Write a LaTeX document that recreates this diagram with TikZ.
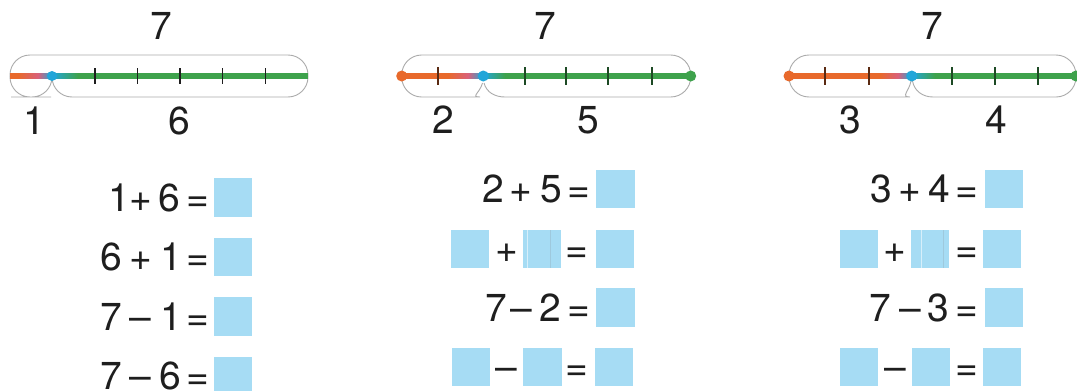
\documentclass[tikz,border=0pt]{standalone}
\usepackage{fontspec}
\setmainfont{TeX Gyre Heros}
\definecolor{lorange}{HTML}{E8692B}
\definecolor{lpink}{HTML}{D9617A}
\definecolor{lblue}{HTML}{22A6D9}
\definecolor{lgreen}{HTML}{3EA24C}
\definecolor{boxblue}{HTML}{A6DCF4}
\definecolor{bracegray}{HTML}{ABABAB}
\definecolor{ink}{HTML}{1E1E1E}
\definecolor{tickgreen}{HTML}{1D4A24}
\definecolor{tickbrown}{HTML}{5A2A12}
\tikzset{
  brace/.style={draw=bracegray, line width=0.9pt},
  tickmark/.style={line width=1.7pt},
  ch/.style={inner sep=0pt, text height=27.3pt, text depth=0pt, font=\fontsize{39}{42}\selectfont, text=ink},
  ansbox/.style={fill=boxblue, minimum width=38.5pt, minimum height=38.5pt, inner sep=0pt, draw=none},
  dot/.style={circle, minimum size=11pt, inner sep=0pt, draw=none},
}
\begin{document}
\begin{tikzpicture}[x=1pt,y=-1pt]
\clip (0,0) rectangle (1077,391);
\fill[white] (0,0) rectangle (1077,391);

% ================= Panel 1 =================
\coordinate (a1) at (10,76);
\coordinate (m1) at (52,76);
\coordinate (e1) at (308,76);
\draw[brace, rounded corners=20pt] (a1) |- (160,55) -| (e1);
\draw[brace, rounded corners=20pt] (a1) |- (31,97) -| (m1);
\draw[brace, rounded corners=20pt] (m1) |- (180,97) -| (e1);
\fill[lorange] (10,73.2) rectangle (18,78.8);
\shade[left color=lorange, right color=lpink] (18,73.2) rectangle (38,78.8);
\shade[left color=lpink, right color=lblue] (38,73.2) rectangle (52,78.8);
\shade[left color=lblue, right color=lgreen] (52,73.2) rectangle (78,78.8);
\fill[lgreen] (78,73.2) rectangle (308,78.8);
\foreach \x in {95,137.3,180,222.7,265.3}
  \draw[tickmark, line width=1.3pt, ink] (\x,68) -- (\x,84);
\node[dot, fill=lblue, minimum size=10pt] (b1) at (m1) {};
\node[ch] (t1) at (161,25.5) {7};
\node[ch] (p1) at (34,121) {1};
\node[ch] (q1) at (179,121) {6};

% ================= Panel 2 =================
\coordinate (a2) at (401.7,76);
\coordinate (m2) at (483.3,76);
\coordinate (e2) at (690.7,76);
\draw[brace, rounded corners=20pt] (a2) |- (545,55) -| (e2);
\draw[brace] (a2) [rounded corners=20pt] |- (460,97) [sharp corners] to[out=0,in=-105] (482.5,83);
\draw[brace] (484,83) to[out=-75,in=180] (505,97) [rounded corners=20pt] -| (e2);
\fill[lorange] (401.7,73.2) rectangle (448,78.8);
\shade[left color=lorange, right color=lpink] (448,73.2) rectangle (468,78.8);
\shade[left color=lpink, right color=lblue] (468,73.2) rectangle (483.3,78.8);
\shade[left color=lblue, right color=lgreen] (483.3,73.2) rectangle (505,78.8);
\fill[lgreen] (505,73.2) rectangle (690.7,78.8);
\draw[tickmark, tickbrown] (438.3,67) -- (438.3,85);
\foreach \x in {525,566,607.7,651.7}
  \draw[tickmark, tickgreen] (\x,67) -- (\x,85);
\node[dot, fill=lorange] (o2) at (a2) {};
\node[dot, fill=lgreen] (g2) at (e2) {};
\node[dot, fill=lblue] (b2) at (m2) {};
\node[ch] (t2) at (545,25.5) {7};
\node[ch] (p2) at (443,120) {2};
\node[ch] (q2) at (588,120) {5};

% ================= Panel 3 =================
\coordinate (a3) at (789,76);
\coordinate (m3) at (911.7,76);
\coordinate (e3) at (1076,76);
\draw[brace, rounded corners=20pt] (a3) |- (932,55) -| (e3);
\draw[brace] (a3) [rounded corners=20pt] |- (890,97) [sharp corners] to[out=0,in=-100] (911,81);
\draw[brace] (912.5,81) to[out=-80,in=180] (933,97) [rounded corners=20pt] -| (e3);
\fill[lorange] (789,73.2) rectangle (880,78.8);
\shade[left color=lorange, right color=lpink] (880,73.2) rectangle (898,78.8);
\shade[left color=lpink, right color=lblue] (898,73.2) rectangle (911.7,78.8);
\shade[left color=lblue, right color=lgreen] (911.7,73.2) rectangle (935,78.8);
\fill[lgreen] (935,73.2) rectangle (1076,78.8);
\foreach \x in {825,869.3}
  \draw[tickmark, tickbrown] (\x,67) -- (\x,85);
\foreach \x in {952.3,995,1038.3}
  \draw[tickmark, tickgreen] (\x,67) -- (\x,85);
\node[dot, fill=lorange] (o3) at (a3) {};
\node[dot, fill=lgreen] (g3) at (e3) {};
\node[dot, fill=lblue] (b3) at (m3) {};
\node[ch] (t3) at (932,25.5) {7};
\node[ch] (p3) at (850,120) {3};
\node[ch] (q3) at (996,120) {4};

% ================= Equations panel 1 =================
\node[ch] (r1a) at (119,197.5) {1};
\node[ch] (r1b) at (141,197.5) {+};
\node[ch] (r1c) at (169,197.5) {6};
\node[ch] (r1d) at (198,197.5) {=};
\node[ansbox] (r1x) at (233,197.5) {};
\node[ch] (r2a) at (111.7,257) {6};
\node[ch] (r2b) at (141,257) {+};
\node[ch] (r2c) at (171,257) {1};
\node[ch] (r2d) at (198,257) {=};
\node[ansbox] (r2x) at (233,257) {};
\node[ch] (r3a) at (111.7,316.5) {7};
\node[ch] (r3b) at (140,316.5) {–};
\node[ch] (r3c) at (171,316.5) {1};
\node[ch] (r3d) at (198,316.5) {=};
\node[ansbox] (r3x) at (233,316.5) {};
\node[ch] (r4a) at (111.7,376) {7};
\node[ch] (r4b) at (140,376) {–};
\node[ch] (r4c) at (170,376) {6};
\node[ch] (r4d) at (198,376) {=};
\node[ansbox] (r4x) at (233,376) {};

% ================= Equations panel 2 =================
\node[ch] (s1a) at (493,189) {2};
\node[ch] (s1b) at (521,189) {+};
\node[ch] (s1c) at (551,189) {5};
\node[ch] (s1d) at (579,189) {=};
\node[ansbox] (s1x) at (615.5,189) {};
\node[ansbox] (s2x) at (470,249) {};
\node[ch] (s2b) at (506.7,249) {+};
\node[ansbox] (s2y) at (542,249) {};
\draw[white!55!boxblue, line width=0.8pt] (527,230) -- (527,268);
\draw[boxblue!80!gray, line width=0.8pt] (550,230) -- (550,268);
\node[ch] (s2d) at (577,249) {=};
\node[ansbox] (s2z) at (615,249) {};
\node[ch] (s3a) at (496.7,307.5) {7};
\node[ch] (s3b) at (521.7,307.5) {–};
\node[ch] (s3c) at (550,307.5) {2};
\node[ch] (s3d) at (579,307.5) {=};
\node[ansbox] (s3x) at (615.5,307.5) {};
\node[ansbox] (s4x) at (471,367) {};
\node[ch] (s4b) at (506,367) {–};
\node[ansbox] (s4y) at (542.5,367) {};
\node[ch] (s4d) at (577,367) {=};
\node[ansbox] (s4z) at (614,367) {};

% ================= Equations panel 3 =================
\node[ch] (u1a) at (881,189) {3};
\node[ch] (u1b) at (910,189) {+};
\node[ch] (u1c) at (939,189) {4};
\node[ch] (u1d) at (967,189) {=};
\node[ansbox] (u1x) at (1004,189) {};
\node[ansbox] (u2x) at (859,249) {};
\node[ch] (u2b) at (895,249) {+};
\node[ansbox] (u2y) at (930,249) {};
\draw[white!55!boxblue, line width=0.8pt] (921.7,230) -- (921.7,268);
\draw[boxblue!80!gray, line width=0.8pt] (943.3,230) -- (943.3,268);
\node[ch] (u2d) at (966.5,249) {=};
\node[ansbox] (u2z) at (1002,249) {};
\node[ch] (u3a) at (880,307.5) {7};
\node[ch] (u3b) at (910,307.5) {–};
\node[ch] (u3c) at (938,307.5) {3};
\node[ch] (u3d) at (967,307.5) {=};
\node[ansbox] (u3x) at (1004,307.5) {};
\node[ansbox] (u4x) at (859,367) {};
\node[ch] (u4b) at (895,367) {–};
\node[ansbox] (u4y) at (931,367) {};
\node[ch] (u4d) at (966.5,367) {=};
\node[ansbox] (u4z) at (1002,367) {};
\end{tikzpicture}
\end{document}
